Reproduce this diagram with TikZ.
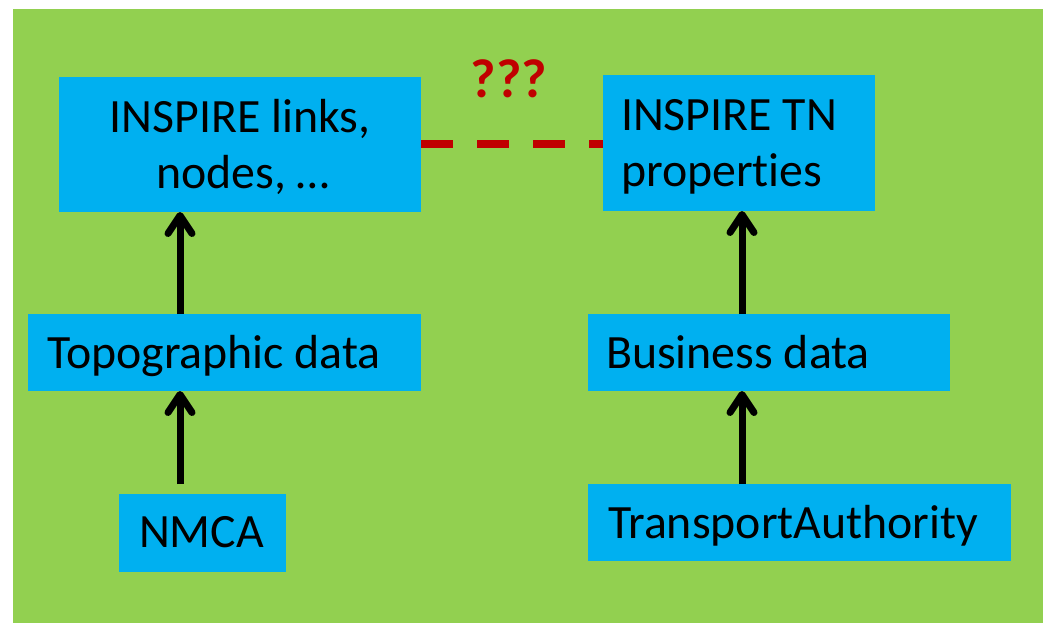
\documentclass[tikz,border=0pt]{standalone}
\usepackage{fontspec}
\setmainfont{Carlito}[Ligatures={NoCommon}]
\usetikzlibrary{arrows.meta}
\definecolor{bggreen}{HTML}{92D050}
\definecolor{boxblue}{HTML}{00B0F0}
\definecolor{darkred}{HTML}{C00000}
\begin{document}
\begin{tikzpicture}[x=1bp,y=-1bp,
  box/.style={fill=boxblue, draw=none, inner sep=0pt, outer sep=0pt, anchor=north west},
  lbl/.style={inner sep=0pt, outer sep=0pt, anchor=base west, font=\fontsize{48}{58}\selectfont},
  arr/.style={line width=7bp, -{Straight Barb[length=18bp, width=24bp, round]}},
  link/.style={darkred, line width=8bp, dash pattern=on 32bp off 24bp},
]
\useasboundingbox (0,0) rectangle (1043,623);
\fill[white] (0,0) rectangle (1043,623);
\fill[bggreen] (13,9) rectangle (1043,623);

\node[box, minimum width=362bp, minimum height=135bp] (A) at (59,77) {};
\node[box, minimum width=272bp, minimum height=136bp] (B) at (603,75) {};
\node[box, minimum width=393bp, minimum height=77bp] (C) at (28,314) {};
\node[box, minimum width=362bp, minimum height=77bp] (D) at (588,314) {};
\node[box, minimum width=167bp, minimum height=78bp] (E) at (119,494) {};
\node[box, minimum width=423bp, minimum height=77bp] (F) at (588,484) {};

\node[lbl, anchor=base] (tA1) at (240,133) {INSPIRE links,};
\node[lbl, anchor=base] (tA2) at (243,189) {nodes, …};
\node[lbl] (tB1) at (621,131) {INSPIRE TN};
\node[lbl] (tB2) at (621,187) {properties};
\node[lbl] (tC) at (47,368) {Topographic data};
\node[lbl] (tD) at (606,368) {Business data};
\node[lbl] (tE) at (139,547) {NMCA};
\node[lbl] (tF) at (608,538) {TransportAuthority};
\node[lbl, anchor=base, text=darkred, font=\fontsize{55}{60}\selectfont\bfseries] (q) at (509,98) {???};

\coordinate (xl) at (180,0);
\coordinate (xr) at (742,0);

\draw[arr] (C.north -| xl) -- (A.south -| xl);
\draw[arr] ([yshift=10bp]E.north -| xl) -- (C.south -| xl);
\draw[arr] (D.north -| xr) -- (B.south -| xr);
\draw[arr] (F.north -| xr) -- (D.south -| xr);

\draw[link] (A.east) -- (A.east -| B.west);
\end{tikzpicture}
\end{document}
